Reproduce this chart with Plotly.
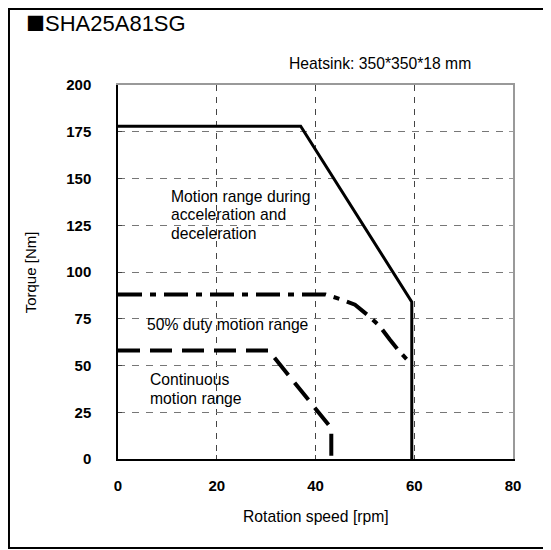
import plotly.graph_objects as go

# Data
accel_x = [0, 37, 59.5, 59.5]
accel_y = [178, 178, 84, 0]
duty_x = [0, 42, 45, 48, 51, 53, 55, 57, 59.5]
duty_y = [88, 88, 85.5, 82.5, 76, 71, 64, 57.5, 50.4]
cont_x = [0, 30.5, 43.2, 43.2]
cont_y = [58, 58, 16.5, 0]
x_ticks = [0, 20, 40, 60, 80]
y_ticks = [0, 25, 50, 75, 100, 125, 150, 175, 200]

FONT = "Liberation Sans, Arial, sans-serif"
TXT = 15.7

fig = go.Figure()
fig.add_trace(go.Scatter(x=accel_x, y=accel_y, mode="lines",
                         line=dict(color="black", width=3), showlegend=False))
fig.add_trace(go.Scatter(x=duty_x, y=duty_y, mode="lines",
                         line=dict(color="black", width=4, dash="24px,8px,6px,8px"),
                         showlegend=False))
fig.add_trace(go.Scatter(x=cont_x, y=cont_y, mode="lines",
                         line=dict(color="black", width=4, dash="22px,10px"),
                         showlegend=False))
# invisible trace to activate secondary axes (frame top/right)
fig.add_trace(go.Scatter(x=[0], y=[0], xaxis="x2", yaxis="y2", mode="markers",
                         marker=dict(opacity=0), showlegend=False, hoverinfo="skip"))

tickfont = dict(family=FONT, size=15, color="black", weight="bold")

# page has an 8px body margin; figure is shrunk so that the plot sits where the reference has it
fig.update_layout(
    width=543, height=542,
    margin=dict(l=110, r=38, t=77, b=91),
    paper_bgcolor="white", plot_bgcolor="white",
    font=dict(family=FONT, color="black"),
    xaxis=dict(range=[0, 80], tickvals=x_ticks, ticks="inside", ticklen=4,
               showline=True, linecolor="black", linewidth=1.5,
               showgrid=True, gridcolor="#444444", gridwidth=1, griddash="6px,6px",
               zeroline=False, tickfont=tickfont, ticklabelstandoff=12),
    yaxis=dict(range=[0, 200], tickvals=y_ticks, ticks="inside", ticklen=4,
               showline=True, linecolor="black", linewidth=1.5,
               showgrid=True, gridcolor="#777777", gridwidth=1, griddash="7px,7px",
               zeroline=False, tickfont=tickfont, ticklabelstandoff=22),
    xaxis2=dict(range=[0, 80], overlaying="x", side="top", tickvals=x_ticks,
                ticks="inside", ticklen=0, showticklabels=False, showline=True,
                linecolor="#999999", linewidth=1.5, showgrid=False, zeroline=False),
    yaxis2=dict(range=[0, 200], overlaying="y", side="right", tickvals=y_ticks,
                ticks="inside", ticklen=4, tickcolor="#999999", showticklabels=False,
                showline=True, linecolor="#999999", linewidth=1.5, showgrid=False,
                zeroline=False),
)

def txt(text, x, y, **kw):
    d = dict(text=text, x=x, y=y, xref="x", yref="y", xanchor="left", yanchor="middle",
             showarrow=False, font=dict(size=TXT))
    d.update(kw)
    return d

ann = [
    dict(text="<span style='font-family:Noto Sans CJK JP;font-size:19px'>■</span>SHA25A81SG",
         xref="paper", yref="paper", x=-0.237, y=1.166, xanchor="left", yanchor="middle",
         showarrow=False, font=dict(size=22)),
    txt("Heatsink: 350*350*18 mm", 53.1, 1.058, yref="paper", xanchor="center"),
    txt("Motion range during", 10.4, 140.3),
    txt("acceleration and", 10.4, 130.5),
    txt("deceleration", 10.4, 120.7),
    txt("50% duty motion range", 5.5, 71.8),
    txt("Continuous", 6.0, 42.4),
    txt("motion range", 6.0, 32.6),
    dict(text="Rotation speed [rpm]", xref="paper", yref="paper", x=0.5, y=-0.153,
         xanchor="center", yanchor="middle", showarrow=False, font=dict(size=TXT)),
    dict(text="Torque [Nm]", xref="paper", yref="paper", x=-0.222, y=0.5,
         xanchor="center", yanchor="middle", textangle=-90, showarrow=False,
         font=dict(size=15)),
]
fig.update_layout(annotations=ann)

# outer frame around the chart
fig.add_shape(type="rect", xref="paper", yref="paper",
              x0=-0.276, x1=1.2, y0=-0.238, y1=1.2032,
              line=dict(color="black", width=2), fillcolor="rgba(0,0,0,0)", layer="above")

fig.write_html("out.html")
